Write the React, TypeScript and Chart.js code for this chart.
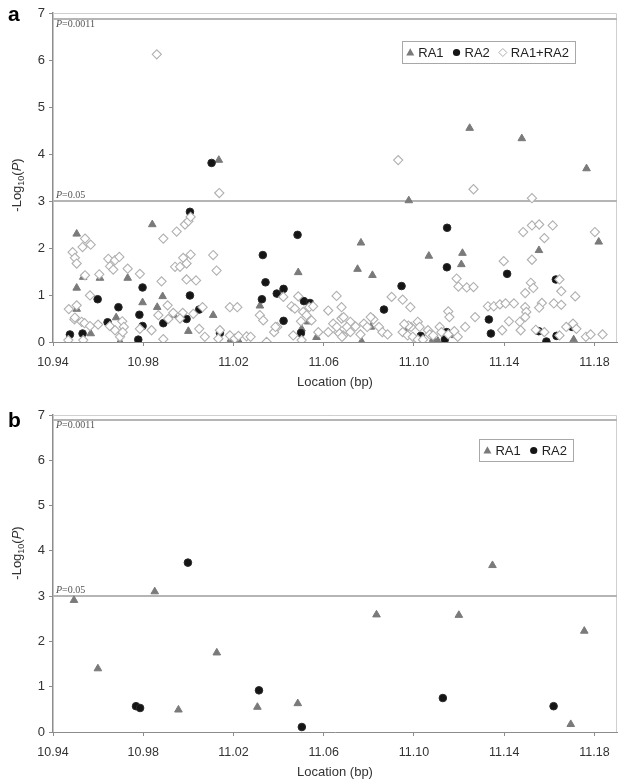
import React, { useEffect, useRef } from 'react';
import { Chart, registerables } from 'chart.js';

Chart.register(...registerables);

type Pt = [number, number];

// ---------- shared axis values ----------
const xTickValues = [10.94, 10.98, 11.02, 11.06, 11.1, 11.14, 11.18];
const xRange = [10.94, 11.19];
const yRange = [0, 7];
const thresholdLines = [3, 6.88];
const thresholdLabels = ['P=0.05', 'P=0.0011'];
const seriesNames = ['RA1', 'RA2', 'RA1+RA2'];

// ---------- panel a ----------
const ra1PanelA: Pt[] = [
  [10.9505, 2.3], [10.984, 2.5], [10.9534, 1.38], [10.9608, 1.36], [10.9731, 1.36], [10.9505, 1.15],
  [10.9505, 0.7], [10.9797, 0.84], [10.9886, 0.97], [10.9862, 0.74], [11.0, 0.23], [11.011, 0.57],
  [10.9936, 0.57], [10.968, 0.52], [10.9697, 0.01], [10.9567, 0.18], [11.0317, 0.77], [11.0487, 1.48],
  [11.0221, 0.04], [11.0568, 0.1], [11.0502, 0.28], [11.0531, 0.43], [11.0189, 0.06], [11.0135, 3.87],
  [11.0977, 3.01], [11.0765, 2.11], [11.075, 1.55], [11.0816, 1.42], [11.1066, 1.83], [11.1215, 1.89],
  [11.121, 1.65], [11.0964, 0.23], [11.0809, 0.32], [11.0768, 0.01], [11.1085, 0.06], [11.1181, 0.14],
  [11.1554, 1.95], [11.1819, 2.13], [11.1708, 0.05], [11.1247, 4.55], [11.1478, 4.33], [11.1765, 3.69],
  [11.1106, 0.02],
];

const ra2PanelA: Pt[] = [
  [10.9475, 0.16], [10.9531, 0.18], [10.9598, 0.91], [10.9642, 0.42], [10.969, 0.74], [10.9797, 1.16],
  [10.9783, 0.58], [10.9778, 0.05], [10.9889, 0.4], [11.0007, 0.99], [10.9992, 0.49], [11.0007, 2.77],
  [11.0048, 0.69], [11.033, 1.85], [11.0342, 1.27], [11.0326, 0.91], [11.0392, 1.03], [11.0422, 1.13],
  [11.0422, 0.45], [11.0484, 2.28], [11.0499, 0.19], [11.0512, 0.87], [11.0539, 0.83], [11.014, 0.19],
  [10.9797, 0.34], [11.0103, 3.81], [11.1147, 2.43], [11.1146, 1.59], [11.0945, 1.19], [11.0867, 0.69],
  [11.1332, 0.48], [11.1341, 0.18], [11.1145, 0.21], [11.1137, 0.06], [11.103, 0.13], [11.1413, 1.45],
  [11.1553, 0.23], [11.1587, 0.01], [11.1629, 1.33], [11.1632, 0.13], [11.1701, 0.32],
];

const comboPanelA: Pt[] = [
  [10.9487, 1.91], [10.9497, 1.79], [10.9505, 1.67], [10.9542, 2.2], [10.9531, 2.02], [10.9567, 2.07],
  [10.9542, 1.42], [10.9564, 0.99], [10.9505, 0.78], [10.947, 0.7], [10.9495, 0.48], [10.9527, 0.43],
  [10.954, 0.4], [10.9564, 0.34], [10.96, 0.37], [10.9468, 0.04], [10.9534, 0.04], [10.9497, 0.52],
  [10.9605, 1.44], [10.9645, 1.77], [10.9653, 1.61], [10.9667, 1.54], [10.9675, 1.74], [10.9694, 1.81],
  [10.9731, 1.56], [10.9785, 1.45], [10.9707, 0.44], [10.9714, 0.32], [10.9697, 0.11], [10.9652, 0.34],
  [10.9785, 0.28], [10.9837, 0.25], [10.9675, 0.25], [10.9709, 0.21], [10.9889, 2.2], [10.9881, 1.29],
  [10.9908, 0.78], [10.9867, 0.57], [10.9889, 0.06], [10.9948, 2.35], [10.9985, 2.5], [11.0, 2.57],
  [11.001, 2.66], [10.9941, 1.6], [10.9963, 1.6], [10.9977, 1.79], [10.9992, 1.67], [11.001, 1.86],
  [10.9992, 1.33], [10.986, 6.12], [11.0034, 1.31], [11.011, 1.85], [11.0125, 1.52], [11.0063, 0.74],
  [11.0073, 0.11], [11.0048, 0.28], [11.0022, 0.6], [10.9975, 0.62], [10.9963, 0.5], [10.9933, 0.62],
  [10.9911, 0.49], [11.0184, 0.74], [11.0217, 0.74], [11.0184, 0.14], [11.0206, 0.07], [11.0258, 0.12],
  [11.0276, 0.11], [11.0317, 0.57], [11.0332, 0.46], [11.0347, 0.0], [11.0394, 0.32], [11.0421, 0.96],
  [11.0457, 0.76], [11.0472, 0.71], [11.0487, 0.97], [11.0509, 0.64], [11.0536, 0.74], [11.0553, 0.76],
  [11.0465, 0.14], [11.0502, 0.04], [11.0576, 0.21], [11.0137, 3.17], [11.014, 0.25], [11.0133, 0.07],
  [11.0222, 0.13], [11.038, 0.21], [11.0386, 0.32], [11.0499, 0.44], [11.0524, 0.57], [11.0546, 0.46],
  [11.062, 0.67], [11.0657, 0.98], [11.0679, 0.74], [11.0642, 0.39], [11.0679, 0.5], [11.062, 0.21],
  [11.0664, 0.21], [11.0686, 0.14], [11.0688, 0.53], [11.0658, 0.32], [11.067, 0.18], [11.0681, 0.11],
  [11.0718, 0.43], [11.0703, 0.32], [11.0718, 0.21], [11.0741, 0.33], [11.0778, 0.39], [11.0793, 0.32],
  [11.0763, 0.16], [11.082, 0.48], [11.0808, 0.53], [11.0845, 0.32], [11.086, 0.21], [11.0883, 0.16],
  [11.0901, 0.96], [11.095, 0.9], [11.0984, 0.74], [11.0987, 0.32], [11.0975, 0.35], [11.0957, 0.38],
  [11.095, 0.21], [11.093, 3.87], [11.1017, 0.43], [11.1025, 0.32], [11.1062, 0.25], [11.107, 0.16],
  [11.0972, 0.14], [11.0995, 0.11], [11.1017, 0.05], [11.104, 0.05], [11.1114, 0.32], [11.1122, 0.21],
  [11.1085, 0.14], [11.1152, 0.16], [11.1152, 0.65], [11.1157, 0.53], [11.1179, 0.23], [11.1194, 0.11],
  [11.1189, 1.35], [11.1197, 1.18], [11.1234, 1.16], [11.1264, 1.17], [11.1271, 0.53], [11.1227, 0.32],
  [11.1264, 3.25], [11.1328, 0.76], [11.1354, 0.76], [11.1381, 0.8], [11.1406, 0.82], [11.1443, 0.82],
  [11.1391, 0.25], [11.1398, 1.72], [11.1523, 3.06], [11.1484, 2.34], [11.1523, 2.48], [11.1555, 2.5],
  [11.1615, 2.48], [11.1578, 2.21], [11.1802, 2.34], [11.1523, 1.75], [11.1645, 1.33], [11.1518, 1.26],
  [11.1529, 1.15], [11.1493, 1.04], [11.1653, 1.08], [11.1715, 0.97], [11.162, 0.82], [11.1567, 0.83],
  [11.1555, 0.73], [11.1653, 0.79], [11.1493, 0.74], [11.1498, 0.64], [11.1493, 0.53], [11.154, 0.26],
  [11.1421, 0.44], [11.1469, 0.43], [11.1473, 0.25], [11.1578, 0.21], [11.1645, 0.14], [11.1675, 0.32],
  [11.1705, 0.39], [11.172, 0.28], [11.1762, 0.11], [11.1783, 0.16], [11.1836, 0.16],
];

// ---------- panel b ----------
const ra1PanelB: Pt[] = [
  [10.9493, 2.91], [10.9599, 1.4], [10.9851, 3.1], [10.9956, 0.49], [11.0126, 1.75], [11.0306, 0.55],
  [11.0485, 0.63], [11.0834, 2.59], [11.1199, 2.58], [11.1348, 3.68], [11.1695, 0.17], [11.1755, 2.23],
];

const ra2PanelB: Pt[] = [
  [10.9768, 0.57], [10.9786, 0.53], [10.9998, 3.74], [11.0313, 0.92], [11.0503, 0.11], [11.1128, 0.75],
  [11.1619, 0.57],
];

// ---------- styles ----------
const FONT = "'Liberation Sans', Arial, Helvetica, sans-serif";
const SERIF = "'Liberation Serif', 'Times New Roman', serif";
const RA1_COLOR = '#7a7a7a';
const RA2_COLOR = '#151515';
const COMBO_BORDER = '#b0b0b0';
const AXIS_COLOR = '#8c8c8c';
const TEXT_COLOR = '#333333';

type MarkerKind = 'triangle' | 'circle' | 'diamond';

function drawMarker(ctx: CanvasRenderingContext2D, kind: MarkerKind, x: number, y: number) {
  ctx.save();
  ctx.beginPath();
  if (kind === 'triangle') {
    const r = 4.2;
    ctx.moveTo(x, y - r);
    ctx.lineTo(x + r * 0.95, y + r * 0.7);
    ctx.lineTo(x - r * 0.95, y + r * 0.7);
    ctx.closePath();
    ctx.fillStyle = RA1_COLOR;
    ctx.fill();
  } else if (kind === 'circle') {
    ctx.arc(x, y, 3.6, 0, Math.PI * 2);
    ctx.fillStyle = RA2_COLOR;
    ctx.fill();
  } else {
    const r = 4;
    ctx.moveTo(x, y - r);
    ctx.lineTo(x + r, y);
    ctx.lineTo(x, y + r);
    ctx.lineTo(x - r, y);
    ctx.closePath();
    ctx.fillStyle = '#fff';
    ctx.fill();
    ctx.strokeStyle = COMBO_BORDER;
    ctx.lineWidth = 1;
    ctx.stroke();
  }
  ctx.restore();
}

const decorPlugin = {
  id: 'decor',
  beforeDatasetsDraw(chart: any) {
    const { ctx, chartArea: ca, scales } = chart;
    const y = scales.y;
    ctx.save();
    // top & right frame
    ctx.strokeStyle = '#cfcfcf';
    ctx.lineWidth = 1;
    ctx.beginPath();
    ctx.moveTo(ca.left, ca.top + 0.5);
    ctx.lineTo(ca.right - 0.5, ca.top + 0.5);
    ctx.lineTo(ca.right - 0.5, ca.bottom);
    ctx.stroke();
    // threshold lines
    ctx.strokeStyle = '#b5b5b5';
    ctx.lineWidth = 2;
    thresholdLines.forEach((v) => {
      const py = Math.round(y.getPixelForValue(v));
      ctx.beginPath();
      ctx.moveTo(ca.left, py);
      ctx.lineTo(ca.right, py);
      ctx.stroke();
    });
    ctx.restore();
  },
  afterDraw(chart: any, _args: any, opts: any) {
    const { ctx, chartArea: ca, scales } = chart;
    const y = scales.y;
    ctx.save();

    // threshold labels
    ctx.fillStyle = '#555';
    ctx.textBaseline = 'alphabetic';
    thresholdLines.forEach((v, i) => {
      const py = y.getPixelForValue(v);
      const label = thresholdLabels[i];
      const base = i === 0 ? py - 3 : py + 8;
      let cx = ca.left + 3;
      ctx.font = `italic 10px ${SERIF}`;
      ctx.fillText('P', cx, base);
      cx += ctx.measureText('P').width;
      ctx.font = `10px ${SERIF}`;
      ctx.fillText(label.slice(1), cx, base);
    });

    // panel letter
    ctx.fillStyle = '#000';
    ctx.font = `bold 21px ${FONT}`;
    ctx.fillText(opts.letter, 8, opts.letterBaseline);

    // x title
    ctx.fillStyle = TEXT_COLOR;
    ctx.font = `13px ${FONT}`;
    ctx.textAlign = 'center';
    ctx.textBaseline = 'middle';
    ctx.fillText('Location (bp)', (ca.left + ca.right) / 2, ca.bottom + 40);

    // y title  -Log10(P)
    ctx.save();
    ctx.translate(16, opts.yTitleCenter);
    ctx.rotate(-Math.PI / 2);
    ctx.textAlign = 'left';
    ctx.textBaseline = 'alphabetic';
    const parts = [
      { t: '-Log', f: `13px ${FONT}`, dy: 0 },
      { t: '10', f: `9px ${FONT}`, dy: 3 },
      { t: '(', f: `13px ${FONT}`, dy: 0 },
      { t: 'P', f: `italic 13px ${FONT}`, dy: 0 },
      { t: ')', f: `13px ${FONT}`, dy: 0 },
    ];
    let total = 0;
    parts.forEach((p) => {
      ctx.font = p.f;
      total += ctx.measureText(p.t).width;
    });
    let px = -total / 2;
    parts.forEach((p) => {
      ctx.font = p.f;
      ctx.fillText(p.t, px, 4.5 + p.dy);
      px += ctx.measureText(p.t).width;
    });
    ctx.restore();

    // legend
    const items: { name: string; kind: MarkerKind }[] = opts.legendItems;
    ctx.font = `13px ${FONT}`;
    ctx.textAlign = 'left';
    ctx.textBaseline = 'middle';
    const widths = items.map((it) => ctx.measureText(it.name).width);
    const padL = 8, markToText = 8, gap = 13, padR = 6;
    let boxW = padL + padR;
    items.forEach((_, i) => {
      boxW += markToText + widths[i] + (i < items.length - 1 ? gap : 0);
    });
    const boxRight = opts.legendRight;
    const boxLeft = boxRight - boxW;
    const boxTop = opts.legendTop;
    const boxH = 22;
    ctx.fillStyle = '#fff';
    ctx.fillRect(boxLeft, boxTop, boxW, boxH);
    ctx.strokeStyle = '#a8a8a8';
    ctx.lineWidth = 1;
    ctx.strokeRect(Math.round(boxLeft) + 0.5, boxTop + 0.5, Math.round(boxW), boxH);
    let lx = boxLeft + padL;
    const ly = boxTop + boxH / 2 + 0.5;
    items.forEach((it, i) => {
      drawMarker(ctx, it.kind, lx, ly);
      ctx.fillStyle = '#222';
      ctx.fillText(it.name, lx + markToText, ly + 0.5);
      lx += markToText + widths[i] + gap;
    });

    ctx.restore();
  },
};

interface PanelProps {
  ra1: Pt[];
  ra2: Pt[];
  combo: Pt[] | null;
  letter: string;
  topPad: number;
  xAxisHeight: number;
  letterBaseline: number;
  yTitleCenter: number;
  legendRight: number;
  legendTop: number;
}

function Panel(props: PanelProps) {
  const ref = useRef<HTMLCanvasElement | null>(null);
  useEffect(() => {
    if (!ref.current) return;
    const toXY = (arr: Pt[]) => arr.map(([x, y]) => ({ x, y }));
    const datasets: any[] = [];
    const legendItems: { name: string; kind: MarkerKind }[] = [
      { name: seriesNames[0], kind: 'triangle' },
      { name: seriesNames[1], kind: 'circle' },
    ];
    if (props.combo) {
      datasets.push({
        label: seriesNames[2],
        data: toXY(props.combo),
        pointStyle: 'rectRot',
        pointRadius: 4.6,
        backgroundColor: '#ffffff',
        borderColor: COMBO_BORDER,
        borderWidth: 1.1,
        order: 1,
      });
      legendItems.push({ name: seriesNames[2], kind: 'diamond' });
    }
    datasets.push({
      label: seriesNames[1],
      data: toXY(props.ra2),
      pointStyle: 'circle',
      pointRadius: 3.8,
      backgroundColor: RA2_COLOR,
      borderColor: '#2a2a2a',
      borderWidth: 1,
      order: 2,
    });
    datasets.push({
      label: seriesNames[0],
      data: toXY(props.ra1),
      pointStyle: 'triangle',
      pointRadius: 4.4,
      backgroundColor: RA1_COLOR,
      borderColor: RA1_COLOR,
      borderWidth: 1,
      order: 3,
    });

    const chart = new Chart(ref.current, {
      type: 'scatter',
      data: { datasets },
      options: {
        responsive: false,
        animation: false,
        devicePixelRatio: 1,
        layout: { padding: { top: props.topPad, right: 7, left: 0, bottom: 0 } },
        plugins: {
          legend: { display: false },
          tooltip: { enabled: false },
          decor: {
            letter: props.letter,
            letterBaseline: props.letterBaseline,
            yTitleCenter: props.yTitleCenter,
            legendRight: props.legendRight,
            legendTop: props.legendTop,
            legendItems,
          },
        } as any,
        scales: {
          x: {
            type: 'linear',
            min: xRange[0],
            max: xRange[1],
            afterBuildTicks: (s: any) => {
              s.ticks = xTickValues.map((v) => ({ value: v }));
            },
            afterFit: (s: any) => {
              s.height = props.xAxisHeight;
            },
            ticks: {
              autoSkip: false,
              maxRotation: 0,
              padding: 9,
              color: TEXT_COLOR,
              font: { family: FONT, size: 12.5 },
              callback: (v: any) => Number(v).toFixed(2),
            },
            grid: {
              display: true,
              drawOnChartArea: false,
              drawTicks: true,
              tickLength: 4,
              color: AXIS_COLOR,
            },
            border: { display: true, color: AXIS_COLOR, width: 1 },
          },
          y: {
            type: 'linear',
            min: yRange[0],
            max: yRange[1],
            afterFit: (s: any) => {
              s.width = 53;
            },
            ticks: {
              stepSize: 1,
              padding: 4,
              color: TEXT_COLOR,
              font: { family: FONT, size: 13 },
            },
            grid: {
              display: true,
              drawOnChartArea: false,
              drawTicks: true,
              tickLength: 4,
              color: AXIS_COLOR,
            },
            border: { display: true, color: AXIS_COLOR, width: 1.5 },
          },
        },
      },
      plugins: [decorPlugin as any],
    });
    return () => chart.destroy();
  }, []);
  return <canvas ref={ref} width={624} height={392} style={{ display: 'block', width: 624, height: 392 }} />;
}

export default function App() {
  return (
    <div style={{ position: 'absolute', left: 0, top: 0, width: 624, height: 784, background: '#fff' }}>
      <Panel
        ra1={ra1PanelA}
        ra2={ra2PanelA}
        combo={comboPanelA}
        letter="a"
        topPad={13}
        xAxisHeight={50}
        letterBaseline={21}
        yTitleCenter={185}
        legendRight={575}
        legendTop={41}
      />
      <Panel
        ra1={ra1PanelB}
        ra2={ra2PanelB}
        combo={null}
        letter="b"
        topPad={23}
        xAxisHeight={52}
        letterBaseline={35}
        yTitleCenter={161}
        legendRight={573}
        legendTop={47}
      />
    </div>
  );
}
